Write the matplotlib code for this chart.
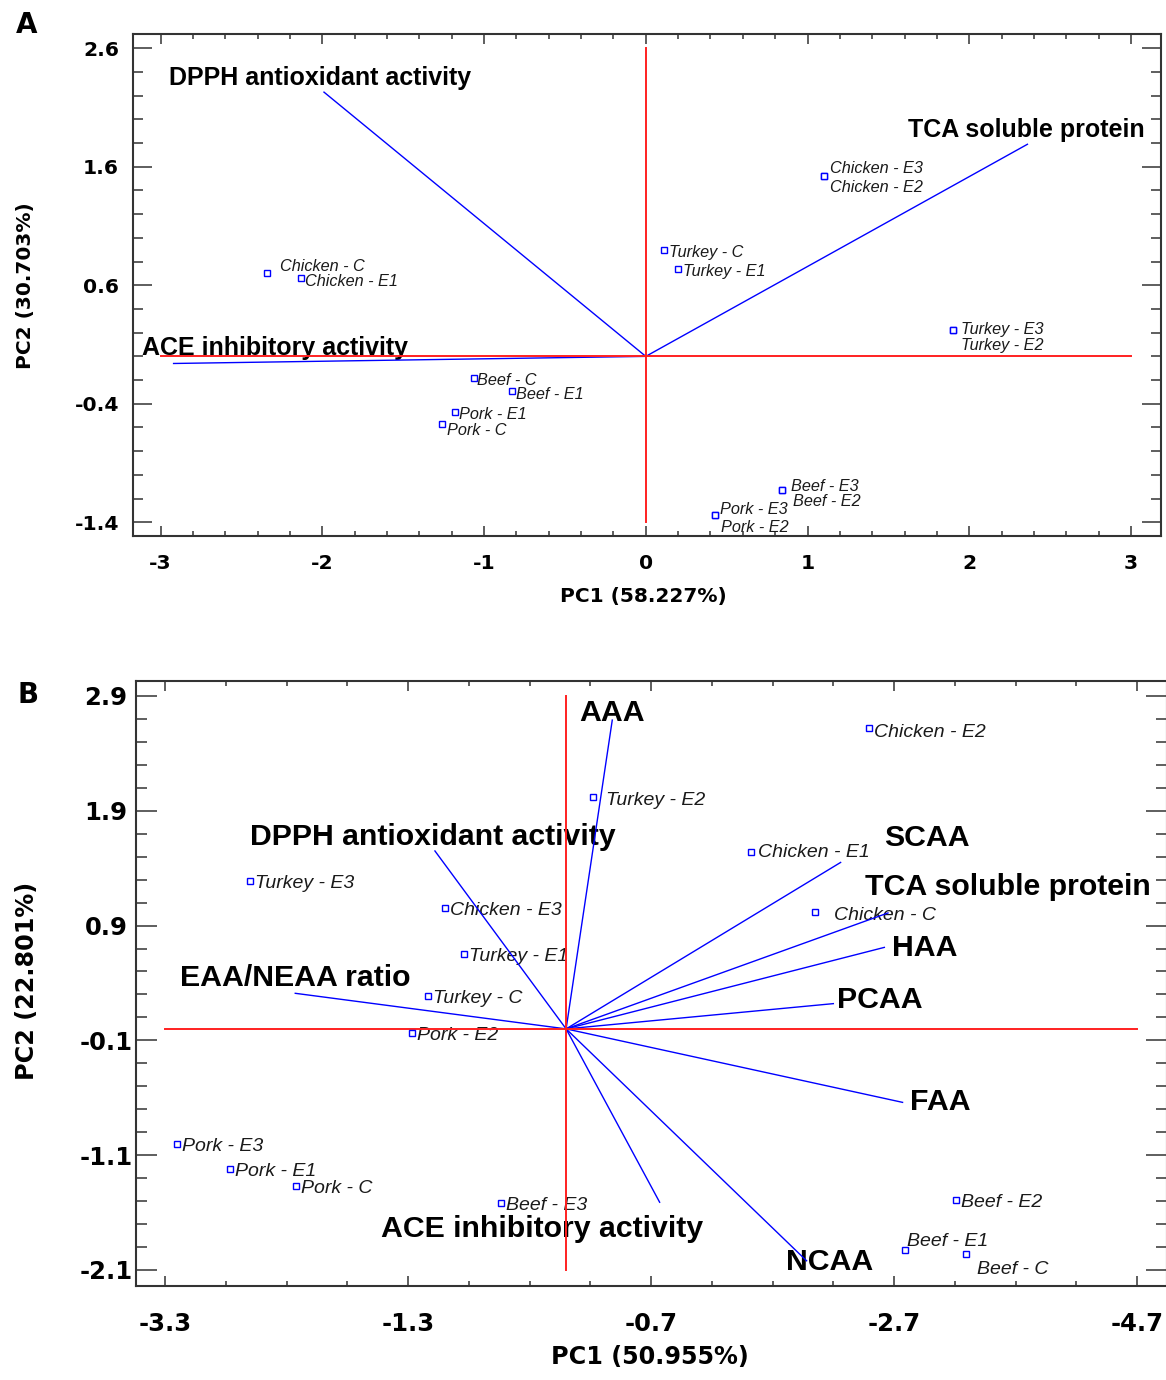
import matplotlib
matplotlib.use("Agg")
import matplotlib.pyplot as plt
from matplotlib.ticker import FixedLocator
import numpy as np

plt.rcParams['axes.unicode_minus'] = False

## Panel A: scores (PC1, PC2) of the samples
a_obs = ["Chicken - C", "Chicken - E1", "Chicken - E3", "Chicken - E2",
         "Turkey - C", "Turkey - E1", "Turkey - E3", "Turkey - E2",
         "Beef - C", "Beef - E1", "Pork - E1", "Pork - C",
         "Beef - E3", "Beef - E2", "Pork - E3", "Pork - E2"]
a_pc1 = [-2.34, -2.13, 1.10, 1.10, 0.11, 0.20, 1.90, 1.90,
         -1.06, -0.83, -1.18, -1.26, 0.84, 0.84, 0.43, 0.43]
a_pc2 = [0.70, 0.66, 1.52, 1.52, 0.90, 0.74, 0.22, 0.22,
         -0.18, -0.29, -0.47, -0.57, -1.13, -1.13, -1.34, -1.34]
## Panel A: loadings
a_vars = ["DPPH antioxidant activity", "TCA soluble protein", "ACE inhibitory activity"]
a_vx = [-1.99, 2.36, -2.92]
a_vy = [2.23, 1.79, -0.06]
a_xticks = [-3, -2, -1, 0, 1, 2, 3]
a_yticks = [2.6, 1.6, 0.6, -0.4, -1.4]
a_xticklabels = ["-3", "-2", "-1", "0", "1", "2", "3"]
a_yticklabels = ["2.6", "1.6", "0.6", "-0.4", "-1.4"]

## Panel B: scores
b_obs = ["Chicken - E2", "Turkey - E2", "Turkey - E3", "Chicken - E3", "Chicken - E1",
         "Chicken - C", "Turkey - E1", "Turkey - C", "Pork - E2", "Pork - E3",
         "Pork - E1", "Pork - C", "Beef - E3", "Beef - E2", "Beef - E1", "Beef - C"]
b_pc1 = [2.49, 0.22, -2.60, -1.00, 1.52, 2.05, -0.84, -1.14, -1.27, -3.20,
         -2.77, -2.22, -0.54, 3.21, 2.79, 3.29]
b_pc2 = [2.62, 2.02, 1.29, 1.05, 1.54, 1.02, 0.65, 0.29, -0.04, -1.00,
         -1.22, -1.37, -1.52, -1.49, -1.93, -1.96]
## Panel B: loadings
b_vars = ["AAA", "DPPH antioxidant activity", "EAA/NEAA ratio", "SCAA",
          "TCA soluble protein", "HAA", "PCAA", "FAA", "ACE inhibitory activity", "NCAA"]
b_vx = [0.38, -1.08, -2.23, 2.26, 2.65, 2.62, 2.20, 2.77, 0.77, 1.98]
b_vy = [2.69, 1.55, 0.31, 1.45, 1.01, 0.71, 0.22, -0.64, -1.51, -2.02]
b_xticks = [-3.3, -1.3, 0.7, 2.7, 4.7]
b_yticks = [2.9, 1.9, 0.9, -0.1, -1.1, -2.1]
b_xticklabels = ["-3.3", "-1.3", "-0.7", "-2.7", "-4.7"]
b_yticklabels = ["2.9", "1.9", "0.9", "-0.1", "-1.1", "-2.1"]

## label offsets in pixels (dx, dy to the centre of the capitals)
a_obs_off = {"Chicken - C": (13, 8), "Chicken - E1": (4, -2), "Chicken - E3": (6, 9),
             "Chicken - E2": (6, -10), "Turkey - C": (5, -1), "Turkey - E1": (5, -1),
             "Turkey - E3": (8, 2), "Turkey - E2": (8, -14), "Beef - C": (3, -1),
             "Beef - E1": (4, -2), "Pork - E1": (4, -1), "Pork - C": (5, -5),
             "Beef - E3": (9, 5), "Beef - E2": (11, -10), "Pork - E3": (5, 7),
             "Pork - E2": (6, -11)}
a_var_off = {"DPPH antioxidant activity": (-155, 16, "left"),
             "TCA soluble protein": (117, 16, "right"),
             "ACE inhibitory activity": (-32, 17, "left")}
b_obs_off = {"Turkey - E2": (13, -1), "Chicken - E1": (7, 2), "Chicken - C": (19, -1),
             "Beef - E1": (2, 11), "Beef - C": (11, -13), "Chicken - E2": (5, -2)}
b_var_off = {"AAA": (-33, 10), "DPPH antioxidant activity": (-185, 17),
             "EAA/NEAA ratio": (-115, 18), "SCAA": (43, 27), "TCA soluble protein": (-23, 29),
             "HAA": (8, 2), "PCAA": (4, 6), "FAA": (7, 3),
             "ACE inhibitory activity": (-279, -24), "NCAA": (-21, 2)}

fig = plt.figure(figsize=(11.66, 13.8), dpi=100)
axA = fig.add_axes([0.11407, 0.61159, 0.88165, 0.36355])
axB = fig.add_axes([0.11655, 0.06833, 0.88388, 0.43841])


def cap_half(fs):
    # half the cap height in pixels
    return 0.358 * fs * 100 / 72


def biplot(ax, obs, pc1, pc2, obs_off, vars_, vx, vy, var_off, obs_fs, var_fs, msize,
           xticks, yticks, xmin_step, ymin_step):
    # vectors
    for v, x, y in zip(vars_, vx, vy):
        ax.plot([0, x], [0, y], color="#0000ff", lw=1.0, zorder=3)
        off = var_off[v]
        ha = off[2] if len(off) > 2 else "left"
        ax.annotate(v, (x, y), xytext=(off[0], off[1] - cap_half(var_fs)),
                    textcoords="offset pixels", ha=ha, va="baseline",
                    family="Liberation Sans", fontweight="bold", fontsize=var_fs,
                    color="black", zorder=2)
    # axes through origin
    ax.plot([xticks[0], xticks[-1]], [0, 0], color="#ff2020", lw=1.4, zorder=4)
    ax.plot([0, 0], [yticks[-1], yticks[0]], color="#ff2020", lw=1.4, zorder=4)
    # points
    ax.plot(pc1, pc2, "s", ms=msize, mfc="white", mec="#0000ff", mew=1.0,
            ls="none", zorder=5)
    for o, x, y in zip(obs, pc1, pc2):
        dx, dy = obs_off.get(o, (5, 0))
        ax.annotate(o, (x, y), xytext=(dx, dy - cap_half(obs_fs)),
                    textcoords="offset pixels", ha="left", va="baseline",
                    family="Liberation Sans", fontstyle="italic", fontsize=obs_fs,
                    color="#1a1a1a", zorder=2)
    ax.xaxis.set_minor_locator(FixedLocator(np.arange(xticks[0], xticks[-1] + 1e-6, xmin_step)))
    ax.yaxis.set_minor_locator(FixedLocator(np.arange(yticks[-1], yticks[0] + 1e-6, ymin_step)))
    for s in ax.spines.values():
        s.set_color("#333333")
        s.set_linewidth(1.5)


biplot(axA, a_obs, a_pc1, a_pc2, a_obs_off, a_vars, a_vx, a_vy, a_var_off,
       11.7, 18, 5, a_xticks, a_yticks, 0.2, 0.2)
biplot(axB, b_obs, b_pc1, b_pc2, b_obs_off, b_vars, b_vx, b_vy, b_var_off,
       14, 21.8, 4.5, b_xticks, b_yticks, 0.5, 0.2)

## Panel A axes
axA.set_xlim(-3.171, 3.186)
axA.set_ylim(-1.516, 2.718)
axA.set_xticks(a_xticks)
axA.set_xticklabels(a_xticklabels)
axA.set_yticks(a_yticks)
axA.set_yticklabels(a_yticklabels)
axA.tick_params(axis="x", which="major", direction="in", length=7, width=1.1,
                color="#333333", top=True, pad=13, labelsize=14.6)
axA.tick_params(axis="x", which="minor", direction="in", length=3.5, width=1.1,
                color="#333333", top=True)
axA.tick_params(axis="y", which="major", direction="in", length=14, width=1.1,
                color="#333333", right=True, pad=10, labelsize=14.6)
axA.tick_params(axis="y", which="minor", direction="in", length=7, width=1.1,
                color="#333333", right=True)
for t in axA.get_xticklabels() + axA.get_yticklabels():
    t.set_fontweight("bold")
axA.set_xlabel("PC1 (58.227%)", fontsize=14.5, fontweight="bold")
axA.xaxis.set_label_coords(0.4966, -0.1196)
axA.xaxis.label.set_verticalalignment("center")
axA.set_ylabel("PC2 (30.703%)", fontsize=14.5, fontweight="bold")
axA.yaxis.set_label_coords(-0.105, 0.5)
axA.yaxis.label.set_verticalalignment("center")

## Panel B axes
axB.set_xlim(-3.542, 4.943)
axB.set_ylim(-2.237, 3.033)
axB.set_xticks(b_xticks)
axB.set_xticklabels(b_xticklabels)
axB.set_yticks(b_yticks)
axB.set_yticklabels(b_yticklabels)
axB.tick_params(axis="x", which="major", direction="in", length=7.5, width=1.1,
                color="#333333", top=True, pad=19, labelsize=17.5)
axB.tick_params(axis="x", which="minor", direction="in", length=3.6, width=1.1,
                color="#333333", top=True)
axB.tick_params(axis="y", which="major", direction="in", length=15, width=1.1,
                color="#333333", right=True, pad=21.5, labelsize=17.5)
axB.tick_params(axis="y", which="minor", direction="in", length=8, width=1.1,
                color="#333333", right=True)
for t in axB.get_xticklabels() + axB.get_yticklabels():
    t.set_fontweight("bold")
for t in axB.get_yticklabels():
    t.set_horizontalalignment("center")
axB.set_xlabel("PC1 (50.955%)", fontsize=17.2, fontweight="bold")
axB.xaxis.set_label_coords(0.499, -0.118)
axB.xaxis.label.set_verticalalignment("center")
axB.set_ylabel("PC2 (22.801%)", fontsize=17.2, fontweight="bold")
axB.yaxis.set_label_coords(-0.106, 0.504)
axB.yaxis.label.set_verticalalignment("center")

## Letras de panel
fig.text(26.8 / 1166, 1 - 25 / 1380, "A", fontsize=20, fontweight="bold",
         ha="center", va="center")
fig.text(28.3 / 1166, 1 - 695 / 1380, "B", fontsize=20, fontweight="bold",
         ha="center", va="center")

fig.savefig("out.png", dpi=100, facecolor="white")
